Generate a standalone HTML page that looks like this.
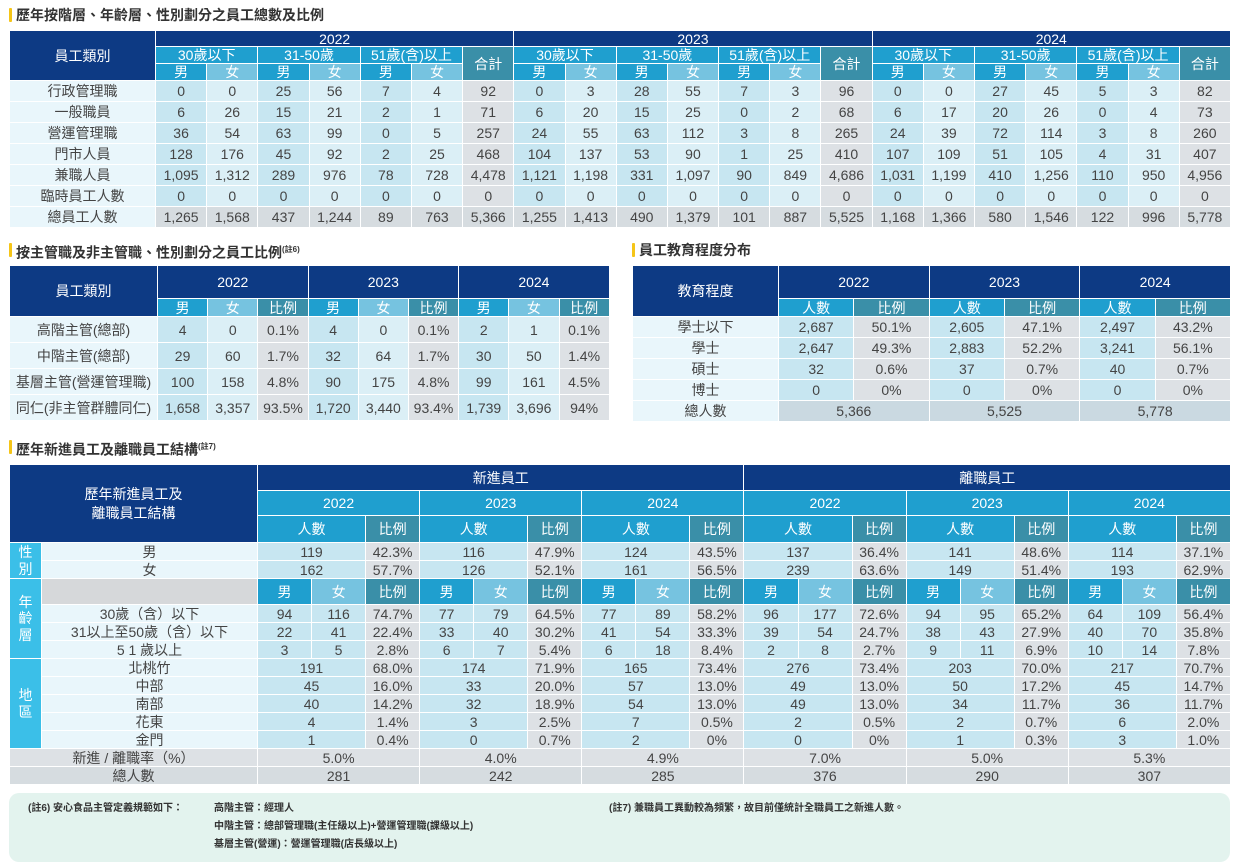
<!DOCTYPE html>
<html><head><meta charset="utf-8">
<style>
*{margin:0;padding:0;box-sizing:border-box}
body{width:1237px;height:867px;background:#fff;font-family:"Liberation Sans","Noto Sans CJK TC",sans-serif;color:#444;position:relative;overflow:hidden}
.ttl{position:absolute;font-size:14px;font-weight:bold;color:#333;padding-left:7px;line-height:16px}
.ttl:before{content:"";position:absolute;left:0;top:1px;width:3px;height:14px;background:#f5c518;border-radius:1px}
.ttl sup{font-size:8px}
table{position:absolute;border-collapse:collapse;table-layout:fixed}
td{border:1px solid #fff;text-align:center;font-size:14px;padding:0;white-space:nowrap;overflow:hidden;line-height:1}
.n{background:#0d3a84;color:#fff}
.b{background:#1f9fcf;color:#fff}
.l{background:#76c3e0;color:#fff}
.t{background:#3a8fa8;color:#fff}
.k{background:#e9f6fb}
.m{background:#c7e6f1}
.f{background:#dbeff6}
.g{background:#dde1e5}
.s{background:#d6dce0}
.c{background:#3bbfe8;color:#fff;line-height:1.15}
.e{background:#d6d8da}
#t1 td{font-size:14px}
.note{position:absolute;left:9px;top:793px;width:1221px;height:69px;background:#e3f3ee;border-radius:10px;font-size:10px;font-weight:bold;color:#333}
.note div{position:absolute;white-space:nowrap}
</style></head><body>

<div class="ttl" style="left:9px;top:7px">歷年按階層、年齡層、性別劃分之員工總數及比例</div>
<table id="t1" style="left:9px;top:30px;width:1221px">
<colgroup><col style="width:146px"><col span="21" style="width:51.19px"></colgroup>
<tr style="height:16px"><td class="n" rowspan="3">員工類別</td><td class="n" colspan="7">2022</td><td class="n" colspan="7">2023</td><td class="n" colspan="7">2024</td></tr>
<tr style="height:17px"><td class="b" colspan="2">30歲以下</td><td class="b" colspan="2">31-50歲</td><td class="b" colspan="2">51歲(含)以上</td><td class="t" rowspan="2">合計</td><td class="b" colspan="2">30歲以下</td><td class="b" colspan="2">31-50歲</td><td class="b" colspan="2">51歲(含)以上</td><td class="t" rowspan="2">合計</td><td class="b" colspan="2">30歲以下</td><td class="b" colspan="2">31-50歲</td><td class="b" colspan="2">51歲(含)以上</td><td class="t" rowspan="2">合計</td></tr>
<tr style="height:17px"><td class="b">男</td><td class="l">女</td><td class="b">男</td><td class="l">女</td><td class="b">男</td><td class="l">女</td><td class="b">男</td><td class="l">女</td><td class="b">男</td><td class="l">女</td><td class="b">男</td><td class="l">女</td><td class="b">男</td><td class="l">女</td><td class="b">男</td><td class="l">女</td><td class="b">男</td><td class="l">女</td></tr>
<tr style="height:21px"><td class="k">行政管理職</td><td class="m">0</td><td class="f">0</td><td class="m">25</td><td class="f">56</td><td class="m">7</td><td class="f">4</td><td class="g">92</td><td class="m">0</td><td class="f">3</td><td class="m">28</td><td class="f">55</td><td class="m">7</td><td class="f">3</td><td class="g">96</td><td class="m">0</td><td class="f">0</td><td class="m">27</td><td class="f">45</td><td class="m">5</td><td class="f">3</td><td class="g">82</td></tr>
<tr style="height:21px"><td class="k">一般職員</td><td class="m">6</td><td class="f">26</td><td class="m">15</td><td class="f">21</td><td class="m">2</td><td class="f">1</td><td class="g">71</td><td class="m">6</td><td class="f">20</td><td class="m">15</td><td class="f">25</td><td class="m">0</td><td class="f">2</td><td class="g">68</td><td class="m">6</td><td class="f">17</td><td class="m">20</td><td class="f">26</td><td class="m">0</td><td class="f">4</td><td class="g">73</td></tr>
<tr style="height:21px"><td class="k">營運管理職</td><td class="m">36</td><td class="f">54</td><td class="m">63</td><td class="f">99</td><td class="m">0</td><td class="f">5</td><td class="g">257</td><td class="m">24</td><td class="f">55</td><td class="m">63</td><td class="f">112</td><td class="m">3</td><td class="f">8</td><td class="g">265</td><td class="m">24</td><td class="f">39</td><td class="m">72</td><td class="f">114</td><td class="m">3</td><td class="f">8</td><td class="g">260</td></tr>
<tr style="height:21px"><td class="k">門市人員</td><td class="m">128</td><td class="f">176</td><td class="m">45</td><td class="f">92</td><td class="m">2</td><td class="f">25</td><td class="g">468</td><td class="m">104</td><td class="f">137</td><td class="m">53</td><td class="f">90</td><td class="m">1</td><td class="f">25</td><td class="g">410</td><td class="m">107</td><td class="f">109</td><td class="m">51</td><td class="f">105</td><td class="m">4</td><td class="f">31</td><td class="g">407</td></tr>
<tr style="height:21px"><td class="k">兼職人員</td><td class="m">1,095</td><td class="f">1,312</td><td class="m">289</td><td class="f">976</td><td class="m">78</td><td class="f">728</td><td class="g">4,478</td><td class="m">1,121</td><td class="f">1,198</td><td class="m">331</td><td class="f">1,097</td><td class="m">90</td><td class="f">849</td><td class="g">4,686</td><td class="m">1,031</td><td class="f">1,199</td><td class="m">410</td><td class="f">1,256</td><td class="m">110</td><td class="f">950</td><td class="g">4,956</td></tr>
<tr style="height:21px"><td class="k">臨時員工人數</td><td class="m">0</td><td class="f">0</td><td class="m">0</td><td class="f">0</td><td class="m">0</td><td class="f">0</td><td class="g">0</td><td class="m">0</td><td class="f">0</td><td class="m">0</td><td class="f">0</td><td class="m">0</td><td class="f">0</td><td class="g">0</td><td class="m">0</td><td class="f">0</td><td class="m">0</td><td class="f">0</td><td class="m">0</td><td class="f">0</td><td class="g">0</td></tr>
<tr style="height:21px"><td class="k">總員工人數</td><td class="s">1,265</td><td class="s">1,568</td><td class="s">437</td><td class="s">1,244</td><td class="s">89</td><td class="s">763</td><td class="s">5,366</td><td class="s">1,255</td><td class="s">1,413</td><td class="s">490</td><td class="s">1,379</td><td class="s">101</td><td class="s">887</td><td class="s">5,525</td><td class="s">1,168</td><td class="s">1,366</td><td class="s">580</td><td class="s">1,546</td><td class="s">122</td><td class="s">996</td><td class="s">5,778</td></tr>
</table>

<div class="ttl" style="left:9px;top:242px">按主管職及非主管職、性別劃分之員工比例<sup>(註6)</sup></div>
<table style="left:9px;top:265px;width:600px">
<colgroup><col style="width:148px"><col span="9" style="width:50.2px"></colgroup>
<tr style="height:33px"><td class="n" rowspan="2">員工類別</td><td class="n" colspan="3">2022</td><td class="n" colspan="3">2023</td><td class="n" colspan="3">2024</td></tr>
<tr style="height:18px"><td class="b">男</td><td class="l">女</td><td class="t">比例</td><td class="b">男</td><td class="l">女</td><td class="t">比例</td><td class="b">男</td><td class="l">女</td><td class="t">比例</td></tr>
<tr style="height:26px"><td class="k">高階主管(總部)</td><td class="m">4</td><td class="f">0</td><td class="g">0.1%</td><td class="m">4</td><td class="f">0</td><td class="g">0.1%</td><td class="m">2</td><td class="f">1</td><td class="g">0.1%</td></tr>
<tr style="height:26px"><td class="k">中階主管(總部)</td><td class="m">29</td><td class="f">60</td><td class="g">1.7%</td><td class="m">32</td><td class="f">64</td><td class="g">1.7%</td><td class="m">30</td><td class="f">50</td><td class="g">1.4%</td></tr>
<tr style="height:26px"><td class="k">基層主管(營運管理職)</td><td class="m">100</td><td class="f">158</td><td class="g">4.8%</td><td class="m">90</td><td class="f">175</td><td class="g">4.8%</td><td class="m">99</td><td class="f">161</td><td class="g">4.5%</td></tr>
<tr style="height:26px"><td class="k">同仁(非主管群體同仁)</td><td class="m">1,658</td><td class="f">3,357</td><td class="g">93.5%</td><td class="m">1,720</td><td class="f">3,440</td><td class="g">93.4%</td><td class="m">1,739</td><td class="f">3,696</td><td class="g">94%</td></tr>
</table>

<div class="ttl" style="left:632px;top:242px">員工教育程度分布</div>
<table style="left:632px;top:265px;width:598px">
<colgroup><col style="width:146px"><col span="6" style="width:75.33px"></colgroup>
<tr style="height:33px"><td class="n" rowspan="2">教育程度</td><td class="n" colspan="2">2022</td><td class="n" colspan="2">2023</td><td class="n" colspan="2">2024</td></tr>
<tr style="height:18px"><td class="b">人數</td><td class="t">比例</td><td class="b">人數</td><td class="t">比例</td><td class="b">人數</td><td class="t">比例</td></tr>
<tr style="height:21px"><td class="k">學士以下</td><td class="m">2,687</td><td class="g">50.1%</td><td class="m">2,605</td><td class="g">47.1%</td><td class="m">2,497</td><td class="g">43.2%</td></tr>
<tr style="height:21px"><td class="k">學士</td><td class="m">2,647</td><td class="g">49.3%</td><td class="m">2,883</td><td class="g">52.2%</td><td class="m">3,241</td><td class="g">56.1%</td></tr>
<tr style="height:21px"><td class="k">碩士</td><td class="m">32</td><td class="g">0.6%</td><td class="m">37</td><td class="g">0.7%</td><td class="m">40</td><td class="g">0.7%</td></tr>
<tr style="height:21px"><td class="k">博士</td><td class="m">0</td><td class="g">0%</td><td class="m">0</td><td class="g">0%</td><td class="m">0</td><td class="g">0%</td></tr>
<tr style="height:21px"><td class="k">總人數</td><td class="s" colspan="2" style="background:#cad9e1">5,366</td><td class="s" colspan="2" style="background:#cad9e1">5,525</td><td class="s" colspan="2" style="background:#cad9e1">5,778</td></tr>
</table>

<div class="ttl" style="left:9px;top:439px">歷年新進員工及離職員工結構<sup>(註7)</sup></div>
<table style="left:9px;top:464px;width:1221px;font-size:13px">
<colgroup><col style="width:32px"><col style="width:216px"><col span="18" style="width:54.05px"></colgroup>
<tr style="height:26px"><td class="n" colspan="2" rowspan="3" style="line-height:19px">歷年新進員工及<br>離職員工結構</td><td class="n" colspan="9">新進員工</td><td class="n" colspan="9">離職員工</td></tr>
<tr style="height:25px"><td class="b" colspan="3">2022</td><td class="b" colspan="3">2023</td><td class="b" colspan="3">2024</td><td class="b" colspan="3">2022</td><td class="b" colspan="3">2023</td><td class="b" colspan="3">2024</td></tr>
<tr style="height:27px"><td class="b" colspan="2">人數</td><td class="t">比例</td><td class="b" colspan="2">人數</td><td class="t">比例</td><td class="b" colspan="2">人數</td><td class="t">比例</td><td class="b" colspan="2">人數</td><td class="t">比例</td><td class="b" colspan="2">人數</td><td class="t">比例</td><td class="b" colspan="2">人數</td><td class="t">比例</td></tr>
<tr style="height:18px"><td class="c" rowspan="2">性<br>別</td><td class="k">男</td><td class="m" colspan="2">119</td><td class="g">42.3%</td><td class="m" colspan="2">116</td><td class="g">47.9%</td><td class="m" colspan="2">124</td><td class="g">43.5%</td><td class="m" colspan="2">137</td><td class="g">36.4%</td><td class="m" colspan="2">141</td><td class="g">48.6%</td><td class="m" colspan="2">114</td><td class="g">37.1%</td></tr>
<tr style="height:18px"><td class="k">女</td><td class="m" colspan="2">162</td><td class="g">57.7%</td><td class="m" colspan="2">126</td><td class="g">52.1%</td><td class="m" colspan="2">161</td><td class="g">56.5%</td><td class="m" colspan="2">239</td><td class="g">63.6%</td><td class="m" colspan="2">149</td><td class="g">51.4%</td><td class="m" colspan="2">193</td><td class="g">62.9%</td></tr>
<tr style="height:26px"><td class="c" rowspan="4">年<br>齡<br>層</td><td class="e"></td><td class="b">男</td><td class="l">女</td><td class="t">比例</td><td class="b">男</td><td class="l">女</td><td class="t">比例</td><td class="b">男</td><td class="l">女</td><td class="t">比例</td><td class="b">男</td><td class="l">女</td><td class="t">比例</td><td class="b">男</td><td class="l">女</td><td class="t">比例</td><td class="b">男</td><td class="l">女</td><td class="t">比例</td></tr>
<tr style="height:18px"><td class="k">30歲（含）以下</td><td class="m">94</td><td class="m">116</td><td class="g">74.7%</td><td class="m">77</td><td class="m">79</td><td class="g">64.5%</td><td class="m">77</td><td class="m">89</td><td class="g">58.2%</td><td class="m">96</td><td class="m">177</td><td class="g">72.6%</td><td class="m">94</td><td class="m">95</td><td class="g">65.2%</td><td class="m">64</td><td class="m">109</td><td class="g">56.4%</td></tr>
<tr style="height:18px"><td class="k">31以上至50歲（含）以下</td><td class="m">22</td><td class="m">41</td><td class="g">22.4%</td><td class="m">33</td><td class="m">40</td><td class="g">30.2%</td><td class="m">41</td><td class="m">54</td><td class="g">33.3%</td><td class="m">39</td><td class="m">54</td><td class="g">24.7%</td><td class="m">38</td><td class="m">43</td><td class="g">27.9%</td><td class="m">40</td><td class="m">70</td><td class="g">35.8%</td></tr>
<tr style="height:18px"><td class="k">5 1 歲以上</td><td class="m">3</td><td class="m">5</td><td class="g">2.8%</td><td class="m">6</td><td class="m">7</td><td class="g">5.4%</td><td class="m">6</td><td class="m">18</td><td class="g">8.4%</td><td class="m">2</td><td class="m">8</td><td class="g">2.7%</td><td class="m">9</td><td class="m">11</td><td class="g">6.9%</td><td class="m">10</td><td class="m">14</td><td class="g">7.8%</td></tr>
<tr style="height:18px"><td class="c" rowspan="5">地<br>區</td><td class="k">北桃竹</td><td class="m" colspan="2">191</td><td class="g">68.0%</td><td class="m" colspan="2">174</td><td class="g">71.9%</td><td class="m" colspan="2">165</td><td class="g">73.4%</td><td class="m" colspan="2">276</td><td class="g">73.4%</td><td class="m" colspan="2">203</td><td class="g">70.0%</td><td class="m" colspan="2">217</td><td class="g">70.7%</td></tr>
<tr style="height:18px"><td class="k">中部</td><td class="m" colspan="2">45</td><td class="g">16.0%</td><td class="m" colspan="2">33</td><td class="g">20.0%</td><td class="m" colspan="2">57</td><td class="g">13.0%</td><td class="m" colspan="2">49</td><td class="g">13.0%</td><td class="m" colspan="2">50</td><td class="g">17.2%</td><td class="m" colspan="2">45</td><td class="g">14.7%</td></tr>
<tr style="height:18px"><td class="k">南部</td><td class="m" colspan="2">40</td><td class="g">14.2%</td><td class="m" colspan="2">32</td><td class="g">18.9%</td><td class="m" colspan="2">54</td><td class="g">13.0%</td><td class="m" colspan="2">49</td><td class="g">13.0%</td><td class="m" colspan="2">34</td><td class="g">11.7%</td><td class="m" colspan="2">36</td><td class="g">11.7%</td></tr>
<tr style="height:18px"><td class="k">花東</td><td class="m" colspan="2">4</td><td class="g">1.4%</td><td class="m" colspan="2">3</td><td class="g">2.5%</td><td class="m" colspan="2">7</td><td class="g">0.5%</td><td class="m" colspan="2">2</td><td class="g">0.5%</td><td class="m" colspan="2">2</td><td class="g">0.7%</td><td class="m" colspan="2">6</td><td class="g">2.0%</td></tr>
<tr style="height:18px"><td class="k">金門</td><td class="m" colspan="2">1</td><td class="g">0.4%</td><td class="m" colspan="2">0</td><td class="g">0.7%</td><td class="m" colspan="2">2</td><td class="g">0%</td><td class="m" colspan="2">0</td><td class="g">0%</td><td class="m" colspan="2">1</td><td class="g">0.3%</td><td class="m" colspan="2">3</td><td class="g">1.0%</td></tr>
<tr style="height:18px"><td class="g" colspan="2">新進 / 離職率（%）</td><td class="g" colspan="3">5.0%</td><td class="g" colspan="3">4.0%</td><td class="g" colspan="3">4.9%</td><td class="g" colspan="3">7.0%</td><td class="g" colspan="3">5.0%</td><td class="g" colspan="3">5.3%</td></tr>
<tr style="height:18px"><td class="s" colspan="2">總人數</td><td class="s" colspan="3">281</td><td class="s" colspan="3">242</td><td class="s" colspan="3">285</td><td class="s" colspan="3">376</td><td class="s" colspan="3">290</td><td class="s" colspan="3">307</td></tr>
</table>

<div class="note">
<div style="left:19px;top:6px">(註6) 安心食品主管定義規範如下：</div>
<div style="left:205px;top:6px">高階主管：經理人</div>
<div style="left:205px;top:24px">中階主管：總部管理職(主任級以上)+營運管理職(課級以上)</div>
<div style="left:205px;top:42px">基層主管(營運)：營運管理職(店長級以上)</div>
<div style="left:600px;top:6px">(註7) 兼職員工異動較為頻繁，故目前僅統計全職員工之新進人數。</div>
</div>
</body></html>
